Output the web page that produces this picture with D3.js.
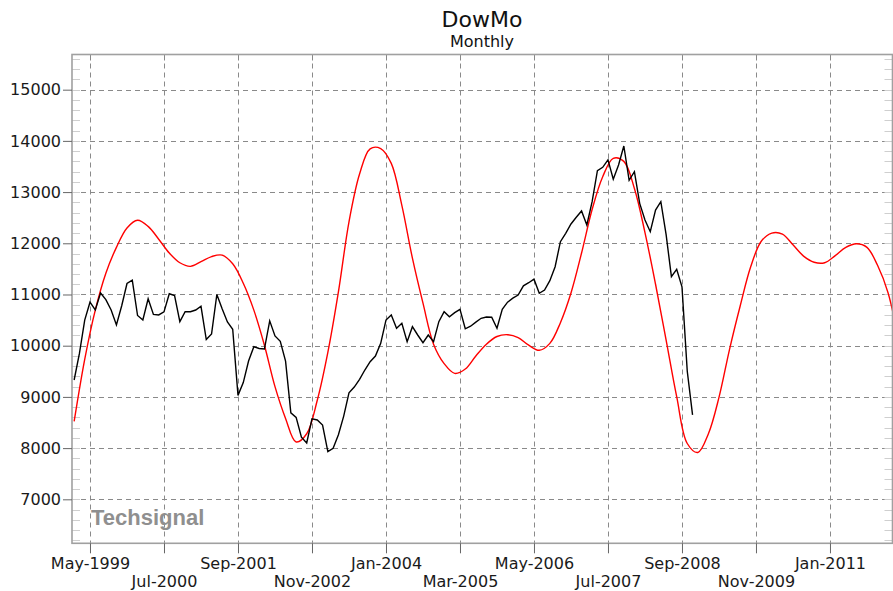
<!DOCTYPE html>
<html><head><meta charset="utf-8">
<script src="https://cdn.jsdelivr.net/npm/d3@7"></script>
<style>body{margin:0;background:#fff}</style>
</head><body><svg id="c" width="893" height="591"></svg>
<script>
const title = "DowMo";
const subtitle = "Monthly";
const watermark = "Techsignal";
const monthNames = ["Jan","Feb","Mar","Apr","May","Jun","Jul","Aug","Sep","Oct","Nov","Dec"];
const xTickLabels = ["May-1999","Jul-2000","Sep-2001","Nov-2002","Jan-2004","Mar-2005","May-2006","Jul-2007","Sep-2008","Nov-2009","Jan-2011"];
const yTicks = [7000,8000,9000,10000,11000,12000,13000,14000,15000];
const yMinorStep = 200;

// Dow monthly (black), one value per month starting Feb-1999
const dowStart = "Feb-1999";
const dowValues = [
 9330,9850,10500,10850,10700,11030,10900,10697,10404,10780,11215,
 11280,10590,10502,10915,10610,10600,10660,11015,10980,10469,10664,10664,
 10697,10770,10120,10230,11000,10720,10465,10320,9030,9280,9700,9980,
 9945,9935,10485,10190,10085,9700,8690,8600,8215,8100,8570,8550,
 8450,7930,7996,8260,8625,9080,9193,9344,9525,9688,9799,10047,
 10502,10600,10340,10437,10078,10371,10209,10059,10209,10078,10469,10664,
 10566,10645,10711,10330,10380,10460,10535,10560,10555,10340,10710,10850,
 10930,10990,11170,11230,11300,11023,11088,11270,11543,12031,12195,12377,
 12508,12631,12357,12812,13418,13484,13630,13250,13529,13900,13230,13398,
 12780,12455,12227,12650,12812,12170,11348,11492,11150,9500,8650
];

// Cycle projection (red), one value every 2 months starting Feb-1999
const cycleStart = "Feb-1999";
const cycleStep = 2;
const cycleValues = [
 8520,9734,10696,11416,11921,12300,12450,12330,12080,11810,11620,11550,
 11640,11740,11770,11600,11220,10695,10010,9200,8580,8120,8280,8935,
 9870,11050,12420,13352,13845,13850,13560,12740,11710,10830,10030,9650,
 9460,9545,9800,10030,10180,10215,10160,10010,9910,10045,10450,11030,
 11810,12660,13300,13660,13600,13070,12210,11200,10110,9004,8090,7915,
 8280,8990,9930,10770,11540,12040,12200,12180,11970,11750,11630,11620,
 11760,11920,11990,11920,11570,11030,10090
];

function monthIndex(s){ const p = s.split("-"); return (+p[1]-1999)*12 + monthNames.indexOf(p[0]); }

const svg = d3.select("#c");
svg.append("rect").attr("width",893).attr("height",591).attr("fill","#fff");

const L = 72, R = 892.5, T = 54.5, B = 543.3;
const x = d3.scaleLinear().domain([0.595, 155.83]).range([L, R]);
const y = d3.scaleLinear().domain([6141, 15687]).range([B, T]);

const FONT = "'DejaVu Sans', Verdana, sans-serif";

// title
svg.append("text").attr("x",482).attr("y",27).attr("text-anchor","middle")
  .style("font-family",FONT).style("font-size","22px").attr("fill","#111").text(title);
svg.append("text").attr("x",482).attr("y",47).attr("text-anchor","middle")
  .style("font-family",FONT).style("font-size","16px").attr("fill","#111").text(subtitle);

const xTickVals = xTickLabels.map(monthIndex);

// grid
const grid = svg.append("g").attr("stroke","#8a8a8a").attr("stroke-width",1).attr("stroke-dasharray","5,4");
grid.selectAll("line.h").data(yTicks).join("line").attr("class","h")
  .attr("x1",L).attr("x2",R).attr("y1",d=>Math.round(y(d))+0.5).attr("y2",d=>Math.round(y(d))+0.5);
grid.selectAll("line.v").data(xTickVals).join("line").attr("class","v")
  .attr("y1",T).attr("y2",B).attr("x1",d=>Math.round(x(d))+0.5).attr("x2",d=>Math.round(x(d))+0.5);

// minor ticks inside left & right
const minor = d3.range(6200, 15687, yMinorStep);
const mg = svg.append("g").attr("stroke","#cfcfcf").attr("stroke-width",1);
mg.selectAll("line.l").data(minor).join("line").attr("class","l")
  .attr("x1",L).attr("x2",L+8).attr("y1",d=>Math.round(y(d))+0.5).attr("y2",d=>Math.round(y(d))+0.5);
mg.selectAll("line.r").data(minor).join("line").attr("class","r")
  .attr("x1",R-8).attr("x2",R).attr("y1",d=>Math.round(y(d))+0.5).attr("y2",d=>Math.round(y(d))+0.5);
// top inner ticks
svg.append("g").attr("stroke","#888").selectAll("line").data(xTickVals).join("line")
  .attr("x1",d=>Math.round(x(d))+0.5).attr("x2",d=>Math.round(x(d))+0.5).attr("y1",T).attr("y2",T+6);

// watermark
svg.append("text").attr("x",91).attr("y",525)
  .style("font-family","'Liberation Sans', Arial, sans-serif").style("font-size","22px").style("font-weight","bold")
  .attr("fill","#8f8f8f").text(watermark);

// clip
svg.append("clipPath").attr("id","clip").append("rect").attr("x",L).attr("y",T).attr("width",R-L).attr("height",B-T);

// lines
const cStart = monthIndex(cycleStart);
const cycleData = cycleValues.map((v,i)=>({m:cStart+i*cycleStep, v}));
const dStart = monthIndex(dowStart);
const dowData = dowValues.map((v,i)=>({m:dStart+i, v}));

svg.append("path").datum(cycleData).attr("clip-path","url(#clip)")
  .attr("fill","none").attr("stroke","#ff0000").attr("stroke-width",1.4)
  .attr("d", d3.line().x(d=>x(d.m)).y(d=>y(d.v)).curve(d3.curveCatmullRom.alpha(0.5)));
svg.append("path").datum(dowData).attr("clip-path","url(#clip)")
  .attr("fill","none").attr("stroke","#000").attr("stroke-width",1.4)
  .attr("d", d3.line().x(d=>x(d.m)).y(d=>y(d.v)));

// frame
svg.append("rect").attr("x",L).attr("y",T).attr("width",R-L).attr("height",B-T)
  .attr("fill","none").attr("stroke","#a0a0a0").attr("stroke-width",1.6);

// axes
const ya = svg.append("g").attr("transform",`translate(${L},0)`)
  .call(d3.axisLeft(y).tickValues(yTicks).tickSize(9).tickPadding(2).tickFormat(d3.format("d")));
ya.select(".domain").remove();
ya.selectAll("line").attr("stroke","#666");
ya.selectAll("text").style("font-family",FONT).style("font-size","16px").attr("fill","#1a1a1a");

const xa = svg.append("g").attr("transform",`translate(0,${B})`)
  .call(d3.axisBottom(x).tickValues(xTickVals).tickSize(10).tickPadding(4)
     .tickFormat((d,i)=>xTickLabels[i]));
xa.select(".domain").remove();
xa.selectAll("line").attr("stroke","#666");
xa.selectAll("text").style("font-family",FONT).style("font-size","16px").attr("fill","#1a1a1a")
  .attr("y",(d,i)=> i%2 ? 32.5 : 14.5);
</script>
</body></html>
